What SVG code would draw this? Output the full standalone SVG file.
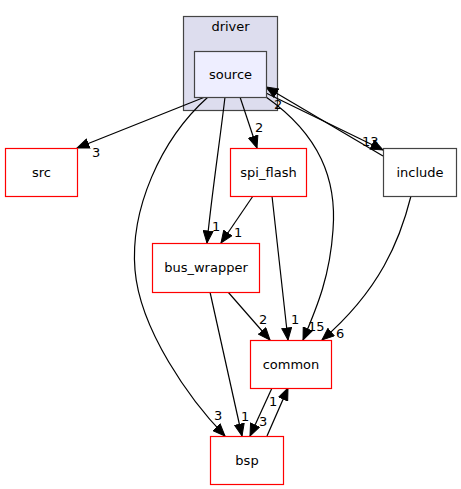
<svg xmlns="http://www.w3.org/2000/svg" width="461" height="489" viewBox="0 0 461 489">
<style>
text{font-family:"DejaVu Sans","Liberation Sans",sans-serif;font-size:13px;fill:#000}
.n{fill:#fff;stroke:#ff0000;stroke-width:1.2}
.g{fill:#fff;stroke:#444;stroke-width:1.2}
.e{fill:none;stroke:#000;stroke-width:1.2}
.c{text-anchor:middle}
</style>
<defs>
<marker id="a" markerWidth="13" markerHeight="11" refX="12.5" refY="5.5" orient="auto" markerUnits="userSpaceOnUse">
<path d="M0.5,0.6 L12.5,5.5 L0.5,10.4 z" fill="#000" stroke="#000"/>
</marker>
</defs>
<rect width="461" height="489" fill="#fff"/>
<g id="cluster_driver">
<rect x="183.5" y="16.5" width="94" height="94" fill="#ddddee" stroke="#444" stroke-width="1.2"/>
<text x="230.5" y="31" class="c">driver</text>
</g>
<g id="edges">
<path class="e" marker-end="url(#a)" d="M205,97 L77,148"/>
<text x="92" y="157">3</text>
<path class="e" marker-end="url(#a)" d="M240,97 L257,148"/>
<text x="255" y="132">2</text>
<path class="e" marker-end="url(#a)" d="M225,97 C220,140 211,200 207,243"/>
<text x="212" y="231">1</text>
<path class="e" marker-end="url(#a)" d="M208,97 C160,140 130,210 135,270 C140,330 190,400 225,436"/>
<text x="214" y="420">3</text>
<path class="e" marker-end="url(#a)" d="M266,97 C320,135 337,180 333,230 C330,275 318,305 303,340"/>
<text x="308" y="331">15</text>
<path class="e" marker-end="url(#a)" d="M266,93 L383,150"/>
<text x="362" y="146">13</text>
<path class="e" marker-end="url(#a)" d="M383,156 L266,87"/>
<text x="274" y="109">2</text>
<path class="e" marker-end="url(#a)" d="M253,196 L221,243"/>
<text x="234" y="237">1</text>
<path class="e" marker-end="url(#a)" d="M272,196 L288,340"/>
<text x="291" y="324">1</text>
<path class="e" marker-end="url(#a)" d="M411,196 C400,240 380,290 322,340"/>
<text x="336" y="338">6</text>
<path class="e" marker-end="url(#a)" d="M228,292 L270,340"/>
<text x="259" y="324">2</text>
<path class="e" marker-end="url(#a)" d="M210,292 L242,436"/>
<text x="241" y="421">1</text>
<path class="e" marker-end="url(#a)" d="M272,388 L250,436"/>
<text x="259" y="426">3</text>
<path class="e" marker-end="url(#a)" d="M267,436 L288,388"/>
<text x="269" y="406">1</text>
</g>
<g id="source">
<rect x="194.5" y="51.5" width="72" height="46" fill="#eeeeff" stroke="#444" stroke-width="1.2"/>
<text x="230.5" y="79" class="c">source</text>
</g>
<g id="src">
<rect x="5.5" y="148.5" width="72" height="48" class="n"/>
<text x="41.5" y="177" class="c">src</text>
</g>
<g id="spi_flash">
<rect x="230.5" y="148.5" width="76" height="48" class="n"/>
<text x="268.5" y="177" class="c">spi_flash</text>
</g>
<g id="include">
<rect x="383.5" y="148.5" width="73" height="48" class="g"/>
<text x="420" y="177" class="c">include</text>
</g>
<g id="bus_wrapper">
<rect x="152.5" y="243.5" width="107" height="49" class="n"/>
<text x="206" y="272" class="c">bus_wrapper</text>
</g>
<g id="common">
<rect x="250.5" y="340.5" width="81" height="48" class="n"/>
<text x="291" y="369" class="c">common</text>
</g>
<g id="bsp">
<rect x="210.5" y="436.5" width="73" height="48" class="n"/>
<text x="247" y="465" class="c">bsp</text>
</g>
</svg>
